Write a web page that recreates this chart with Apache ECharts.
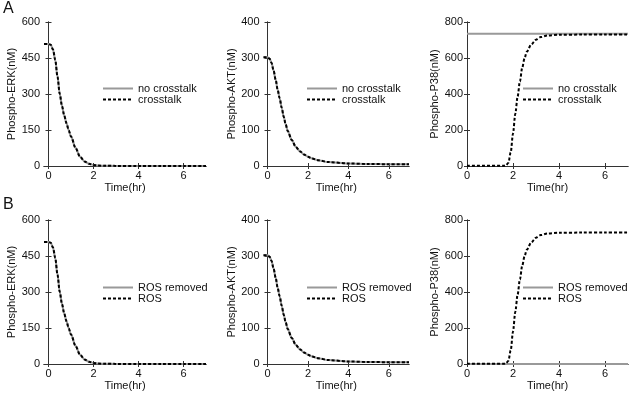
<!DOCTYPE html>
<html>
<head>
<meta charset="utf-8">
<script src="https://cdn.jsdelivr.net/npm/echarts@6/dist/echarts.min.js"></script>
<style>
  html, body { margin: 0; padding: 0; background: #fff; }
  #chart { width: 632px; height: 396px; }
</style>
</head>
<body>
<div id="chart"></div>
<script>
// time points (hr) and values (nM)
const erkTime = [-0.2, 0, 0.1, 0.2, 0.3, 0.4, 0.5, 0.6, 0.7, 0.8, 0.9, 1.0, 1.2, 1.4, 1.6, 1.8, 2.0, 2.2, 2.5, 3, 4, 5, 6, 7]
const erkValues = [508, 508, 505, 485, 442, 372, 300, 250, 210, 178, 148, 123, 76, 39, 19, 9, 4, 2, 1, 0.5, 0, 0, 0, 0]

const aktTime = [-0.2, 0, 0.1, 0.2, 0.3, 0.4, 0.5, 0.6, 0.7, 0.8, 0.9, 1.0, 1.2, 1.4, 1.6, 1.8, 2.0, 2.2, 2.5, 3, 4, 5, 6, 7]
const aktValues = [302, 302, 298, 286, 265, 240, 212, 188, 162, 137, 115, 97, 72, 53, 41, 32, 26, 21, 16, 11, 7, 5.5, 5, 5]

const p38Time = [0, 1.6, 1.7, 1.8, 1.9, 2.0, 2.1, 2.2, 2.3, 2.4, 2.5, 2.6, 2.8, 3.0, 3.2, 3.5, 4, 5, 6, 7]
const p38Values = [1, 1, 4, 18, 75, 180, 290, 385, 470, 545, 598, 635, 676, 702, 716, 725, 729, 730, 730, 730]

const flatTime = [0, 7]
const p38NoCrosstalk = [735, 735]
const p38RosRemoved = [0, 0]

const xTicks = [0, 2, 4, 6]
const erkTicks = { max: 600, interval: 150 }
const aktTicks = { max: 400, interval: 100 }
const p38Ticks = { max: 800, interval: 200 }

const legendA = ['no crosstalk', 'crosstalk']
const legendB = ['ROS removed', 'ROS']

const font = 'Liberation Sans, Arial, sans-serif'
const pairs = (t, v) => t.map((x, i) => [x, v[i]])

const cols = [
  { left: 44, width: 162, xMin: -0.2, legendLeft: 102 },
  { left: 263.5, width: 145.5, xMin: -0.2, legendLeft: 306 },
  { left: 467, width: 161, xMin: 0, legendLeft: 522 }
]
const rows = [
  { top: 22, legendTop: 83, names: legendA },
  { top: 220, legendTop: 282, names: legendB }
]

const panels = [
  { row: 0, col: 0, yName: 'Phospho-ERK(nM)', ticks: erkTicks, solid: pairs(erkTime, erkValues), dotted: pairs(erkTime, erkValues) },
  { row: 0, col: 1, yName: 'Phospho-AKT(nM)', ticks: aktTicks, solid: pairs(aktTime, aktValues), dotted: pairs(aktTime, aktValues) },
  { row: 0, col: 2, yName: 'Phospho-P38(nM)', ticks: p38Ticks, solid: pairs(flatTime, p38NoCrosstalk), dotted: pairs(p38Time, p38Values) },
  { row: 1, col: 0, yName: 'Phospho-ERK(nM)', ticks: erkTicks, solid: pairs(erkTime, erkValues), dotted: pairs(erkTime, erkValues) },
  { row: 1, col: 1, yName: 'Phospho-AKT(nM)', ticks: aktTicks, solid: pairs(aktTime, aktValues), dotted: pairs(aktTime, aktValues) },
  { row: 1, col: 2, yName: 'Phospho-P38(nM)', ticks: p38Ticks, solid: pairs(flatTime, p38RosRemoved), dotted: pairs(p38Time, p38Values) }
]

const axisLine = { lineStyle: { color: '#333', width: 1 } }
const tick = { inside: true, length: 3, lineStyle: { color: '#333' } }
const label = { color: '#111', fontSize: 11, fontFamily: font }

const grid = [], xAxis = [], yAxis = [], series = [], legend = []

panels.forEach((p, i) => {
  const c = cols[p.col]
  const r = rows[p.row]
  grid.push({ left: c.left, top: r.top, width: c.width, height: 144 })

  const xBase = { gridIndex: i, type: 'value', min: c.xMin, max: 7, splitLine: { show: false }, axisLine }
  xAxis.push({
    ...xBase, position: 'bottom',
    name: 'Time(hr)', nameLocation: 'middle', nameGap: 16,
    nameTextStyle: { color: '#111', fontSize: 11, fontFamily: font },
    axisTick: { ...tick, customValues: xTicks },
    axisLabel: { ...label, margin: 4, customValues: xTicks }
  })
  xAxis.push({
    ...xBase, position: 'top',
    axisTick: { ...tick, customValues: xTicks },
    axisLabel: { show: false }
  })

  const yBase = { gridIndex: i, type: 'value', min: 0, max: p.ticks.max, interval: p.ticks.interval, splitLine: { show: false }, axisLine }
  yAxis.push({
    ...yBase, position: 'left',
    name: p.yName, nameLocation: 'middle', nameGap: 25,
    nameTextStyle: { color: '#111', fontSize: 11, fontFamily: font },
    axisTick: tick,
    axisLabel: { ...label, margin: 4 }
  })
  yAxis.push({
    ...yBase, position: 'right',
    axisTick: tick,
    axisLabel: { show: false }
  })

  series.push({
    name: r.names[0], type: 'line', xAxisIndex: i * 2, yAxisIndex: i * 2,
    data: p.solid, symbol: 'none', smooth: 0.3, smoothMonotone: 'x',
    lineStyle: { color: '#999', width: 2 }, itemStyle: { color: '#999' },
    silent: true, animation: false
  })
  series.push({
    name: r.names[1], type: 'line', xAxisIndex: i * 2, yAxisIndex: i * 2,
    data: p.dotted, symbol: 'none', smooth: 0.3, smoothMonotone: 'x',
    lineStyle: { color: '#000', width: 2, type: [3, 2] }, itemStyle: { color: '#000' },
    silent: true, animation: false, z: 3
  })

  legend.push({
    data: r.names, orient: 'vertical', left: c.legendLeft, top: r.legendTop,
    itemWidth: 30, itemHeight: 8, itemGap: 0, padding: 0, selectedMode: false,
    itemStyle: { opacity: 0 },
    textStyle: { color: '#111', fontSize: 11, fontFamily: font, lineHeight: 11 }
  })
})

const chart = echarts.init(document.getElementById('chart'))
chart.setOption({
  backgroundColor: '#fff',
  animation: false,
  title: [
    { text: 'A', left: 3, top: 1, padding: 0, textStyle: { fontSize: 16, fontWeight: 'normal', color: '#111', fontFamily: font } },
    { text: 'B', left: 3, top: 197, padding: 0, textStyle: { fontSize: 16, fontWeight: 'normal', color: '#111', fontFamily: font } }
  ],
  grid, xAxis, yAxis, series, legend
})
</script>
</body>
</html>
